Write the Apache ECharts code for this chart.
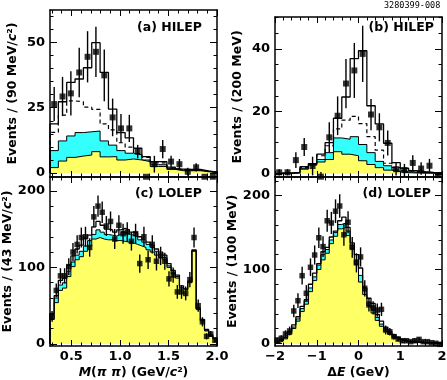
<!DOCTYPE html>
<html>
<head>
<meta charset="utf-8">
<script src="https://cdn.jsdelivr.net/npm/echarts@6.0.0/dist/echarts.min.js"></script>
<style>
html,body{margin:0;padding:0;background:#fff;}
#chart{width:447px;height:380px;}
</style>
</head>
<body>
<div id="chart"></div>
<script>
// ================= DATA =================
const massRange = [0.28, 2.0];   // M(pi pi) axis, GeV/c^2
const deRange = [-2, 2];         // Delta E axis, GeV

// (a) HILEP, M(pi pi), 20 bins
const dataA   = [26.4, 29.3, 30.5, 38.5, 44.5, 46.4, 37.4, 21.3, 17.1, 17.1, 8.2, -1.4, 3.4, 9.2, 4.4, 3.4, 0.5, 2.2, -1.4, -1.4];
const errA    = [6.5, 7.5, 8.5, 9.5, 9.8, 9.6, 9.9, 7.2, 5.5, 5.2, 2.6, 0, 3.2, 3.5, 2.2, 2.0, 1.5, 1.6, 0, 0];
const yellowA = [2.1, 4.6, 6.0, 6.5, 6.9, 8.2, 6.2, 6.3, 5.0, 5.4, 5.0, 4.4, 2.5, 2.5, 1.4, 0.9, 0.9, 0.9, 0.5, 0.2];
const cyanA   = [8.6, 12.3, 14.2, 15.5, 15.8, 16.1, 12.3, 10.7, 8.6, 7.6, 7.0, 5.0, 3.2, 3.2, 1.8, 1.1, 1.0, 1.0, 0.6, 0.3];
const dashedA = [15.6, 22.2, 27.6, 27.3, 25.2, 24.4, 18.8, 16.5, 11.6, 9.9, 7.5, 6.0, 3.9, 3.9, 2.0, 1.3, 1.2, 1.2, 0.7, 0.4];
const solidA  = [18.8, 27.3, 34.7, 36.0, 40.3, 49.9, 38.5, 24.5, 15.5, 13.5, 9.5, 6.3, 4.4, 4.4, 2.3, 1.5, 1.4, 1.4, 0.8, 0.4];

// (b) HILEP, Delta E, 20 bins
const dataB   = [0.5, 0.5, 4.4, 8.6, 2.5, -0.9, 11.7, 18.6, 28.9, 33.1, 38.4, 19.0, 14.9, 9.9, 1.5, 1.2, 3.5, 1.7, 2.6, -0.4];
const errB    = [1.0, 1.0, 2.5, 2.9, 3.0, 1.5, 4.8, 6.2, 7.9, 8.8, 9.0, 5.0, 4.5, 4.0, 2.0, 2.0, 2.5, 2.0, 2.2, 0.5];
const yellowB = [0.1, 0.1, 0.3, 1.5, 2.8, 3.8, 4.6, 7.1, 6.3, 5.8, 4.2, 3.0, 2.0, 1.2, 0.7, 0.4, 0.3, 0.2, 0.2, 0.1];
const cyanB   = [0.1, 0.1, 0.3, 1.8, 3.0, 4.6, 6.8, 11.5, 11.1, 11.9, 9.4, 6.8, 4.0, 2.6, 1.2, 0.7, 0.5, 0.4, 0.3, 0.2];
const dashedB = [0.2, 0.2, 0.4, 2.0, 3.1, 5.8, 9.0, 14.4, 17.2, 18.4, 16.1, 11.9, 7.6, 3.4, 2.0, 1.2, 0.7, 0.5, 0.4, 0.3];
const solidB  = [0.3, 0.3, 0.5, 2.3, 3.3, 6.3, 10.0, 17.8, 24.6, 36.9, 39.4, 21.8, 16.0, 9.8, 3.6, 1.8, 1.0, 0.7, 0.5, 0.4];

// (c) LOLEP, M(pi pi), 40 bins
const dataC   = [36, 70, 89, 89, 101, 120, 130, 139, 140, 126, 166, 180, 172, 154, 160, 137, 155, 144, 146, 134, 144, 105, 140, 110, 130, 108, 115, 108, 85, 90, 68, 68, 66, 84, 139, 50, 29, 10, 13, 5];
const errC    = [7, 9, 10, 10, 11, 12, 12, 13, 13, 12, 14, 14, 14, 13, 13, 13, 13, 13, 13, 12, 13, 12, 13, 12, 12, 12, 12, 11, 10, 10, 9, 9, 9, 10, 13, 8, 6, 4, 4, 3];
const yellowC = [32, 54, 70, 73, 88, 101, 110, 114, 121, 128, 137, 139, 137, 136, 136, 135, 135, 134, 133, 132, 130, 128, 126, 123, 120, 116, 113, 110, 100, 92, 86, 72, 70, 80, 121, 45, 30, 17, 10, 7];
const cyanC   = [38, 60, 77, 80, 95, 107, 116, 121, 128, 135, 143, 149, 146, 143, 142, 141, 143, 146, 144, 142, 140, 136, 133, 130, 126, 121, 117, 113, 102, 94, 88, 74, 71, 81, 122, 46, 31, 18, 11, 7];
const solidC  = [40, 63, 83, 86, 103, 115, 124, 129, 138, 142, 153, 160, 155, 150, 149, 146, 149, 151, 149, 146, 145, 140, 136, 133, 129, 124, 120, 116, 105, 96, 90, 76, 72, 82, 123, 47, 32, 19, 12, 8];

// (d) LOLEP, Delta E, 40 bins
const dataD   = [4.5, 6.8, 12.6, 16.7, 43.8, 57.7, 91.6, 67.8, 103, 119.6, 143, 131, 166, 163, 179, 186, 147, 164, 130, 109, 117, 74.5, 52, 48, 45, 46, 18, 15.7, 9, 5.8, 3.5, 3.5, 2.2, 3.5, 5.3, 2.2, 2.2, 0.8, 0, -1.4];
const errD    = [3, 4, 5, 6, 8.5, 10, 12, 11, 12, 13, 14, 14, 15, 15, 16, 16, 15, 15, 14, 13, 13, 11, 9, 9, 9, 9, 6, 5, 4, 3.5, 3, 3, 2, 3, 3, 2, 2, 1.5, 1, 1];
const yellowD = [1, 3, 6, 12, 20, 30, 43, 53, 70, 85, 100, 113, 122, 135, 145, 155, 157, 146, 128, 107, 83, 66, 51, 41, 31, 23, 17, 12, 8, 5.5, 3.5, 2.2, 1.5, 1.2, 1, 0.8, 0.6, 0.5, 0.4, 0.3];
const cyanD   = [1.5, 3.5, 7, 14, 22, 33, 47, 57, 75, 90, 106, 120, 127, 140, 150, 161, 163, 152, 133, 113, 92, 71, 56, 45, 35, 26, 19.5, 14, 9.5, 6.5, 4, 2.5, 1.8, 1.4, 1.1, 0.9, 0.7, 0.5, 0.4, 0.3];
const solidD  = [2, 5, 8, 16, 25, 36, 50, 59, 80, 95, 108, 124, 130, 144, 152, 166, 171, 157, 136, 120, 102, 75, 61, 54, 39, 30, 22, 16, 11.5, 8, 5, 3, 2.2, 1.8, 1.5, 1.2, 1, 0.8, 0.6, 0.4];

// ticks
const massMajor = [0.5, 1.0, 1.5, 2.0];
const massMinor = [0.3, 0.4, 0.6, 0.7, 0.8, 0.9, 1.1, 1.2, 1.3, 1.4, 1.6, 1.7, 1.8, 1.9];
const deMajor = [-2, -1, 0, 1, 2];
const deMinor = [-1.8, -1.6, -1.4, -1.2, -0.8, -0.6, -0.4, -0.2, 0.2, 0.4, 0.6, 0.8, 1.2, 1.4, 1.6, 1.8];
const yMajorA = [0, 25, 50];
const yMinorA = [5, 10, 15, 20, 30, 35, 40, 45, 55, 60];
const yMajorB = [0, 20, 40];
const yMinorB = [5, 10, 15, 25, 30, 35, 45, 50];
const yMajorC = [0, 100, 200];
const yMinorC = [20, 40, 60, 80, 120, 140, 160, 180];
const yMajorD = [0, 100, 200];
const yMinorD = [20, 40, 60, 80, 120, 140, 160, 180, 220];

const yRangeA = [-1.5, 62.4];
const yRangeB = [-1, 50.2];
const yRangeC = [-2.6, 218];
const yRangeD = [-3.66, 225.3];

// ================= STYLE / BUILD =================
const FONT = 'DejaVu Sans';
const INK = '#000000';
const YELLOW = '#ffff66';
const CYAN = '#33ffff';

function stepPts(range, vals) {
  const w = (range[1] - range[0]) / vals.length;
  const pts = [[range[0], 0]];
  vals.forEach((v, i) => pts.push([range[0] + i * w, v]));
  pts.push([range[1], vals[vals.length - 1]]);
  pts.push([range[1], 0]);
  return pts;
}
function centerOf(range, n, i) {
  const w = (range[1] - range[0]) / n;
  return range[0] + (i + 0.5) * w;
}

const nameStyle = {
  fontFamily: FONT, fontWeight: 'bold', fontSize: 12.5, color: INK,
  rich: { i: { fontFamily: FONT, fontWeight: 'bold', fontStyle: 'italic', fontSize: 12.5, color: INK } }
};
const labelStyle = { fontFamily: FONT, fontWeight: 'bold', fontSize: 13, color: INK };
const frameLine = { show: true, onZero: false, lineStyle: { color: INK, width: 1.5 } };
const noLine = { show: false, onZero: false };
const tickLine = { color: INK, width: 1 };

function xAxes(g, range, major, minor, fmt, name) {
  const c = { type: 'value', gridIndex: g, min: range[0], max: range[1], splitLine: { show: false }, z: 10, silent: true };
  return [
    Object.assign({}, c, {
      position: 'bottom', axisLine: frameLine,
      axisTick: { show: true, inside: true, length: 6, customValues: major, lineStyle: tickLine },
      axisLabel: fmt ? Object.assign({ show: true, customValues: major, formatter: fmt, margin: 4 }, labelStyle) : { show: false },
      name: name || '', nameLocation: 'middle', nameGap: 20, nameTextStyle: nameStyle
    }),
    Object.assign({}, c, {
      position: 'bottom', axisLine: noLine,
      axisTick: { show: true, inside: true, length: 3.5, customValues: minor, lineStyle: tickLine },
      axisLabel: { show: false }
    }),
    Object.assign({}, c, {
      position: 'top', axisLine: frameLine,
      axisTick: { show: true, inside: true, length: 6, customValues: major, lineStyle: tickLine },
      axisLabel: { show: false }
    }),
    Object.assign({}, c, {
      position: 'top', axisLine: noLine,
      axisTick: { show: true, inside: true, length: 3.5, customValues: minor, lineStyle: tickLine },
      axisLabel: { show: false }
    })
  ];
}
function yAxes(g, range, major, minor, name) {
  const c = { type: 'value', gridIndex: g, min: range[0], max: range[1], splitLine: { show: false }, z: 10, silent: true };
  return [
    Object.assign({}, c, {
      position: 'left', axisLine: frameLine,
      axisTick: { show: true, inside: true, length: 7, customValues: major, lineStyle: tickLine },
      axisLabel: Object.assign({ show: true, customValues: major, margin: 5 }, labelStyle),
      name: name, nameLocation: 'middle', nameRotate: 90, nameGap: 31, nameTextStyle: nameStyle
    }),
    Object.assign({}, c, {
      position: 'left', axisLine: noLine,
      axisTick: { show: true, inside: true, length: 3.5, customValues: minor, lineStyle: tickLine },
      axisLabel: { show: false }
    }),
    Object.assign({}, c, {
      position: 'right', axisLine: frameLine,
      axisTick: { show: true, inside: true, length: 7, customValues: major, lineStyle: tickLine },
      axisLabel: { show: false }
    }),
    Object.assign({}, c, {
      position: 'right', axisLine: noLine,
      axisTick: { show: true, inside: true, length: 3.5, customValues: minor, lineStyle: tickLine },
      axisLabel: { show: false }
    })
  ];
}

function errRender(params, api) {
  const x = api.value(0), y = api.value(1), e = api.value(2);
  if (!e) return null;
  const p1 = api.coord([x, y - e]);
  const p2 = api.coord([x, y + e]);
  return { type: 'line', shape: { x1: p1[0], y1: p1[1], x2: p2[0], y2: p2[1] }, style: { stroke: INK, lineWidth: 1.4 } };
}

function panelSeries(g, range, P, size) {
  const base = { xAxisIndex: 4 * g, yAxisIndex: 4 * g, animation: false, silent: true };
  const line = (vals, style, area, z) => Object.assign({}, base, {
    type: 'line', step: 'end', symbol: 'none', data: stepPts(range, vals),
    lineStyle: style, areaStyle: area, z: z, clip: true
  });
  const out = [];
  out.push(line(P.cyan, { color: INK, width: 1 }, { color: CYAN, opacity: 1 }, 2));
  out.push(line(P.yellow, { color: INK, width: 1 }, { color: YELLOW, opacity: 1 }, 3));
  if (P.dashed) out.push(line(P.dashed, { color: INK, width: 1.2, type: [4, 3] }, undefined, 4));
  out.push(line(P.solid, { color: INK, width: 1.3 }, undefined, 4));
  const n = P.data.length;
  out.push(Object.assign({}, base, {
    type: 'custom', renderItem: errRender, clip: true, z: 5,
    encode: { x: 0, y: 1 },
    data: P.data.map((v, i) => [centerOf(range, n, i), v, P.err[i]])
  }));
  out.push(Object.assign({}, base, {
    type: 'scatter', symbol: 'rect', symbolSize: size, z: 6,
    itemStyle: { color: INK },
    data: P.data.map((v, i) => [centerOf(range, n, i), v])
  }));
  return out;
}

const fmtMass = v => v.toFixed(1);
const fmtDE = v => String(v).replace('-', '\u2212');

const grids = [
  { left: 50, top: 10, width: 167, height: 167 },
  { left: 275, top: 17, width: 167, height: 160 },
  { left: 50, top: 177, width: 167, height: 169 },
  { left: 275, top: 177, width: 167, height: 169 }
].map(g => Object.assign({ containLabel: false, outerBoundsMode: 'none', show: false }, g));

const xAxis = [].concat(
  xAxes(0, massRange, massMajor, massMinor, null, ''),
  xAxes(1, deRange, deMajor, deMinor, null, ''),
  xAxes(2, massRange, massMajor, massMinor, fmtMass, '{i|M}({i|\u03c0 \u03c0}) (GeV/{i|c}\u00b2)'),
  xAxes(3, deRange, deMajor, deMinor, fmtDE, '\u0394{i|E} (GeV)')
);
const yAxis = [].concat(
  yAxes(0, yRangeA, yMajorA, yMinorA, 'Events / (90 MeV/{i|c}\u00b2)'),
  yAxes(1, yRangeB, yMajorB, yMinorB, 'Events / (200 MeV)'),
  yAxes(2, yRangeC, yMajorC, yMinorC, 'Events / (43 MeV/{i|c}\u00b2)'),
  yAxes(3, yRangeD, yMajorD, yMinorD, 'Events / (100 MeV)')
);

const series = [].concat(
  panelSeries(0, massRange, { data: dataA, err: errA, yellow: yellowA, cyan: cyanA, dashed: dashedA, solid: solidA }, 6),
  panelSeries(1, deRange, { data: dataB, err: errB, yellow: yellowB, cyan: cyanB, dashed: dashedB, solid: solidB }, 6),
  panelSeries(2, massRange, { data: dataC, err: errC, yellow: yellowC, cyan: cyanC, solid: solidC }, 5.5),
  panelSeries(3, deRange, { data: dataD, err: errD, yellow: yellowD, cyan: cyanD, solid: solidD }, 5.5)
);

const titleText = (x, y, t) => ({
  type: 'text', x: x, y: y, z: 20,
  style: { text: t, fontFamily: FONT, fontWeight: 'bold', fontSize: 12.5, fill: INK, align: 'right', verticalAlign: 'top' }
});

const option = {
  backgroundColor: '#ffffff',
  animation: false,
  grid: grids,
  xAxis: xAxis,
  yAxis: yAxis,
  series: series,
  graphic: [
    titleText(202, 21, '(a) HILEP'),
    titleText(434, 21, '(b) HILEP'),
    titleText(202, 187, '(c) LOLEP'),
    titleText(431, 187, '(d) LOLEP'),
    { type: 'text', x: 384, y: 1, z: 20,
      style: { text: '3280399-008', fontFamily: 'DejaVu Sans Mono', fontSize: 8.5, fill: INK, align: 'left', verticalAlign: 'top' } }
  ]
};

const chart = echarts.init(document.getElementById('chart'), null, { renderer: 'canvas' });
chart.setOption(option);
</script>
</body>
</html>
